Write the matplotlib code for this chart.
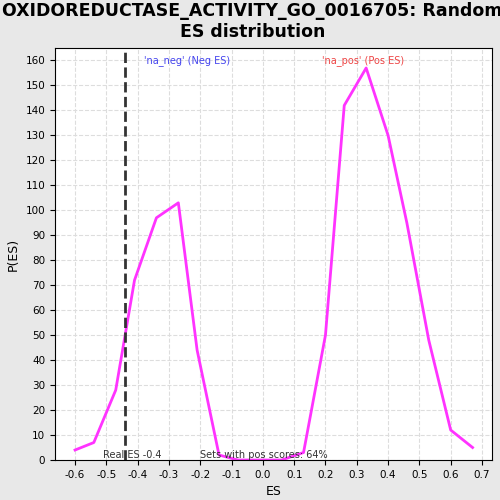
import matplotlib
matplotlib.use("Agg")
import matplotlib.pyplot as plt

es = [-0.60, -0.54, -0.47, -0.41, -0.34, -0.27, -0.21, -0.14, -0.08, -0.01, 0.06, 0.13, 0.20, 0.26, 0.33, 0.40, 0.46, 0.53, 0.60, 0.67]
pes = [4, 7, 28, 72, 97, 103, 44, 2, 0, 0, 0, 3, 50, 142, 157, 130, 95, 48, 12, 5]
real_es = -0.44

fig = plt.figure(figsize=(5, 5), dpi=100, facecolor="#e8e8e8")
ax = fig.add_axes([0.11, 0.08, 0.874, 0.824])
ax.plot(es, pes, color="#ff33ff", lw=2)
ax.axvline(real_es, color="#333333", ls="--", lw=2)
ax.set_xlim(-0.664, 0.732)
ax.set_ylim(0, 165)
ax.set_xticks([-0.6, -0.5, -0.4, -0.3, -0.2, -0.1, 0.0, 0.1, 0.2, 0.3, 0.4, 0.5, 0.6, 0.7])
ax.set_xticklabels(["-0.6", "-0.5", "-0.4", "-0.3", "-0.2", "-0.1", "0.0", "0.1", "0.2", "0.3", "0.4", "0.5", "0.6", "0.7"])
ax.set_yticks(range(0, 161, 10))
ax.tick_params(labelsize=7.5)
ax.grid(True, ls="--", color="#dddddd", lw=0.8)
ax.set_xlabel("ES", fontsize=9)
ax.set_ylabel("P(ES)", fontsize=9)
fig.suptitle("OXIDOREDUCTASE_ACTIVITY_GO_0016705: Random\nES distribution", fontsize=12.5, fontweight="bold", y=0.995, x=0.505)
ax.text(-0.38, 159, "'na_neg' (Neg ES)", color="#4444ee", fontsize=7)
ax.text(0.19, 159, "'na_pos' (Pos ES)", color="#ee4444", fontsize=7)
ax.text(-0.51, 0.8, "Real ES -0.4", color="#333333", fontsize=7)
ax.text(-0.2, 0.8, "Sets with pos scores: 64%", color="#333333", fontsize=7)
fig.savefig("out.png", facecolor=fig.get_facecolor())
